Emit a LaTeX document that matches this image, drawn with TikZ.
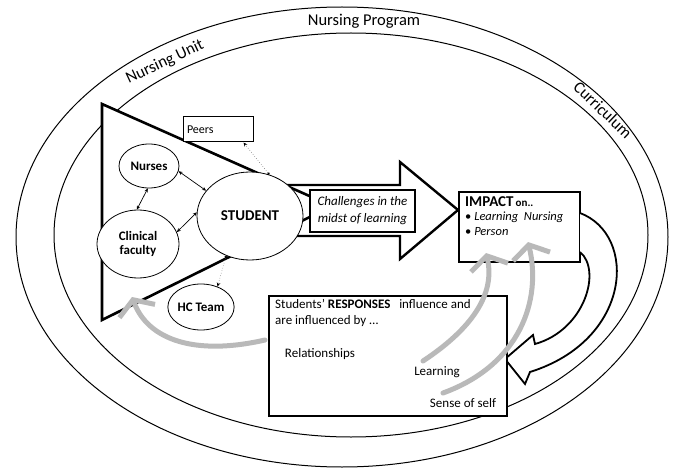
\documentclass[tikz,border=0pt]{standalone}
\usepackage{fontspec}
\setmainfont{Carlito}
\usetikzlibrary{arrows.meta,shapes.geometric}
\begin{document}
\begin{tikzpicture}[x=1pt,y=-1pt,
  ring/.style={line width=1pt},
  lbl/.style={font=\fontsize{16.5}{18}\selectfont, inner sep=0pt},
  actor/.style={ellipse, draw, line width=0.8pt, fill=white, inner sep=0pt, align=center, font=\fontsize{13}{14}\selectfont\bfseries},
  box/.style={rectangle, draw, line width=1.3pt, fill=white, inner sep=0pt},
  txt/.style={font=\fontsize{13}{16}\selectfont, inner sep=0pt, align=left},
  link/.style={line width=0.7pt, {Stealth[length=4pt,width=3.5pt]}-{Stealth[length=4pt,width=3.5pt]}},
  dotlink/.style={line width=0.6pt, draw=gray, dotted, {Circle[length=2.5pt,fill=black,black]}-{Stealth[length=4pt,width=3.5pt,fill=black,black]}},
  grayarrow/.style={line width=5pt, draw=gray!55, line cap=round, -{Straight Barb[length=12pt,width=38pt]}}
]
\useasboundingbox (0,0) rectangle (675,468);
% context rings
\draw[ring] (342,237) ellipse [x radius=326pt, y radius=230pt];
\draw[ring] (351,235) ellipse [x radius=297pt, y radius=202pt];
\node[lbl] (proglbl) at (364,21) {Nursing Program};
\node[lbl, rotate=25] (unitlbl) at (165,62) {Nursing Unit};
\node[lbl, rotate=-44] (curlbl) at (603,110) {Curriculum};
% triangle
\draw[line width=2.6pt, fill=white, line join=miter] (102,104) -- (102,320) -- (332,206) -- cycle;
% big arrow
\draw[line width=2.4pt, line join=miter] (270,185) -- (400,185) -- (400,162) -- (458,210) -- (400,259) -- (400,236) -- (270,236);
% nodes
\node[actor, minimum width=106pt, minimum height=88pt, font=\fontsize{15}{16}\selectfont\bfseries] (student) at (250,216) {STUDENT};
\node[actor, minimum width=60pt, minimum height=44pt] (nurses) at (149,166) {Nurses};
\node[actor, minimum width=82pt, minimum height=68pt] (clinical) at (138,244) {Clinical\\faculty};
\node[actor, minimum width=58pt, minimum height=46pt] (hcteam) at (201,307) {HC Team};
\node[box, line width=1pt, minimum width=70pt, minimum height=25pt, font=\fontsize{12}{14}\selectfont, text width=62pt, align=left] (peers) at (218,129.5) {Peers};
\node[box, minimum width=105pt, minimum height=42pt, align=center, font=\fontsize{13}{17}\selectfont\itshape] (challenges) at (362.5,211) {Challenges in the\\midst of learning};
\node[box, minimum width=121pt, minimum height=70pt] (impact) at (519.5,227) {};
\node[txt, anchor=north west, font=\fontsize{12.5}{15}\selectfont] (impacttxt) at (465,196) {{\bfseries\fontsize{15}{15}\selectfont IMPACT}\,{\bfseries\fontsize{11}{11}\selectfont on..}\\[-1pt] •\ \textit{Learning~~Nursing}\\ •\ \textit{Person}};
% links
\draw[link] (nurses.-10) -- (student.150);
\draw[link] (nurses.267) -- (clinical.92);
\draw[link] (clinical.17) -- (student.176);
\draw[dotlink] (student.65) -- (peers.-27);
\draw[dotlink] (student.239) -- (hcteam.51);
% curved impact arrow
\draw[line width=1.8pt, fill=white, line join=miter] (580,213) .. controls (638,235) and (632,340) .. (530,372) -- (525,384) -- (505,359) -- (533,335) -- (535,344) .. controls (585,330) and (602,270) .. (580,252);
% responses box
\node[box, minimum width=238pt, minimum height=120pt] (responses) at (388,356) {};
\node[txt, anchor=north west] (resphead) at (275,299) {Students’ \textbf{RESPONSES}~~ influence and\\are influenced by …};
\node[txt] (rel) at (320,354) {Relationships};
\node[txt] (learn) at (437,372) {Learning};
\node[txt] (self) at (463,403) {Sense of self};
% gray influence arrows
\coordinate (g1s) at (265,340);
\coordinate (g1e) at (132,297);
\coordinate (g2s) at (423,361);
\coordinate (g2e) at (486,253);
\coordinate (g3s) at (443,393);
\coordinate (g3e) at (528,242);
\draw[grayarrow] (g1s) .. controls (195,356) and (148,340) .. (g1e);
\draw[grayarrow] (g2s) .. controls (470,330) and (496,295) .. (g2e);
\draw[grayarrow] (g3s) .. controls (520,365) and (542,300) .. (g3e);
\end{tikzpicture}
\end{document}
